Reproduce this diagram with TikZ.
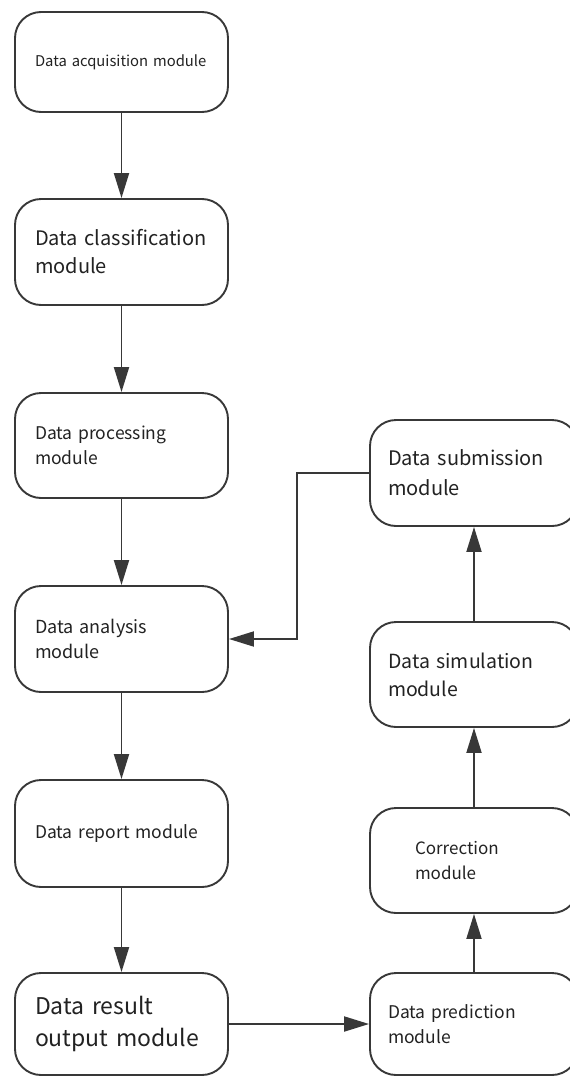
\documentclass[tikz,border=0pt]{standalone}
\usepackage{fontspec}
\setmainfont{Noto Sans CJK SC}
\usetikzlibrary{arrows.meta}
\definecolor{ln}{HTML}{383838}
\definecolor{tx}{HTML}{222222}
\tikzset{
  box/.style={draw=ln, line width=1.9pt, rounded corners=26pt, fill=white,
    text=tx, align=left, inner ysep=0pt},
  lbox/.style={box, inner xsep=20pt, text width=173pt},
  rbox/.style={box, inner xsep=18pt, text width=172pt},
  arr/.style={draw=ln, line width=1.9pt, -{Triangle[length=25pt,width=15pt]}},
}
\begin{document}
\begin{tikzpicture}[x=1pt,y=-1pt]
\useasboundingbox[fill=white] (0,0) rectangle (570,1079);
% left column
\node[lbox, minimum height=100pt, font=\fontsize{14.8}{18}\selectfont] (b1) at (121.5,62) {Data acquisition module};
\node[lbox, minimum height=106pt, font=\fontsize{20}{28}\selectfont] (b2) at (121.5,252) {Data classification\\ module};
\node[lbox, minimum height=105pt, font=\fontsize{17.5}{25}\selectfont] (b3) at (121.5,445.5) {Data processing\\module};
\node[lbox, minimum height=106pt, font=\fontsize{18}{25}\selectfont] (b4) at (121.5,639) {Data analysis\\module};
\node[lbox, minimum height=107pt, font=\fontsize{17.5}{21}\selectfont] (b5) at (121.5,833.5) {Data report module};
\node[lbox, minimum height=102pt, font=\fontsize{23}{32}\selectfont] (b6) at (121.5,1024) {Data result\\output module};
% right column
\node[rbox, minimum height=106pt, font=\fontsize{20}{30}\selectfont] (r1) at (474,473) {Data submission\\module};
\node[rbox, minimum height=105pt, font=\fontsize{19.5}{28}\selectfont] (r2) at (474,674.5) {Data simulation\\module};
\node[rbox, minimum height=105pt, font=\fontsize{17}{25}\selectfont] (r3) at (474,860.5) {\hspace*{27pt}Correction\\\hspace*{27pt}module};
\node[rbox, minimum height=102pt, font=\fontsize{17.5}{25}\selectfont] (r4) at (474,1024) {Data prediction\\module};
% connectors
\draw[arr] (b1) -- (b2);
\draw[arr] (b2) -- (b3);
\draw[arr] (b3) -- (b4);
\draw[arr] (b4) -- (b5);
\draw[arr] (b5) -- (b6);
\draw[arr] (b6) -- (r4);
\draw[arr] (r4) -- (r3);
\draw[arr] (r3) -- (r2);
\draw[arr] (r2) -- (r1);
\coordinate (elb) at (297,473);
\draw[arr] (r1.west) -- (elb) |- (b4.east);
\end{tikzpicture}
\end{document}
